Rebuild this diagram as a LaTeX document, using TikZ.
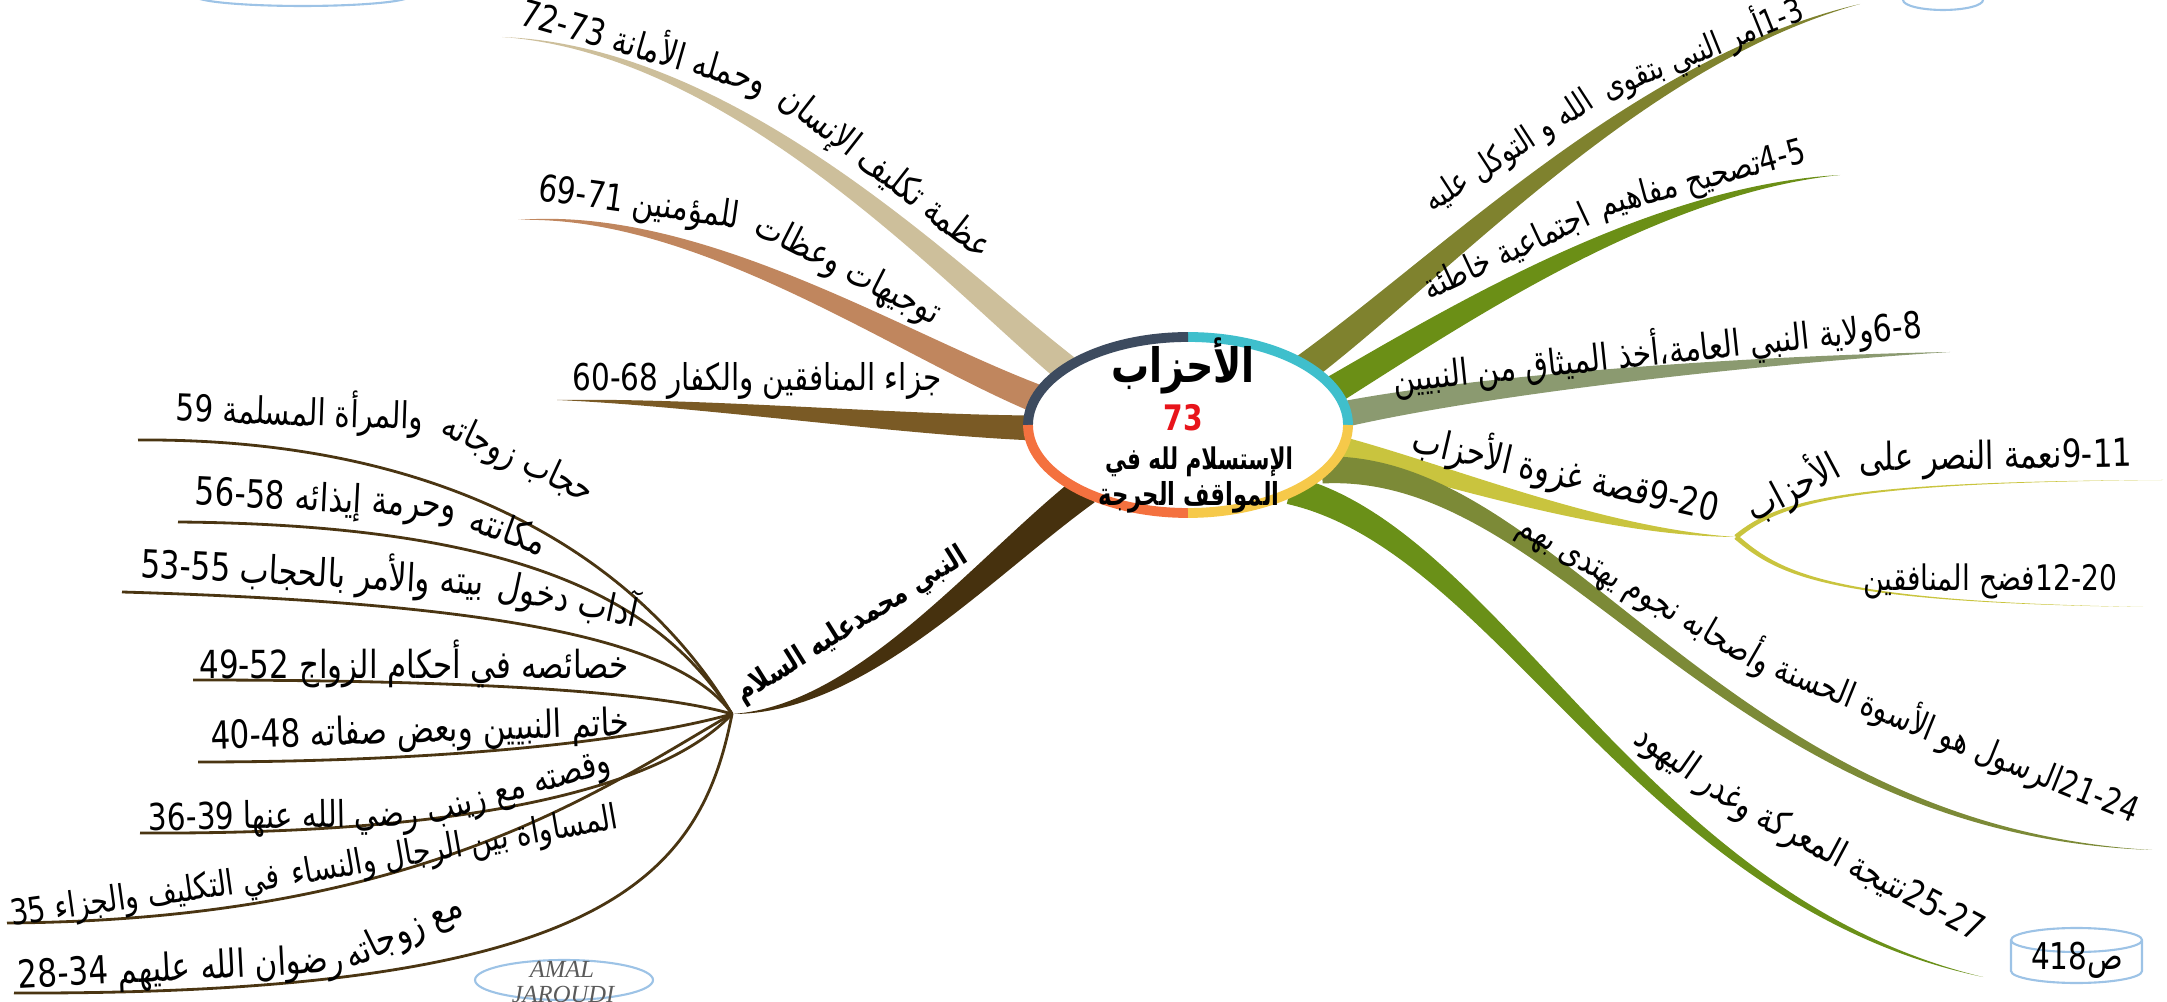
\documentclass[tikz,border=0pt]{standalone}
\usepackage{fontspec}
\usepackage{xcolor}
\usepackage{tikz}
\usetikzlibrary{calc}
\TeXXeTstate=1
\newfontfamily\arfont[Script=Arabic,FakeStretch=0.8]{DejaVu Sans}
\newfontfamily\arcore[Script=Arabic,FakeStretch=0.72]{DejaVu Sans}
\newfontfamily\signfont{Liberation Serif}
\definecolor{ringslate}{HTML}{3D4B5F}
\definecolor{ringteal}{HTML}{3FBFCC}
\definecolor{ringgold}{HTML}{F6C94A}
\definecolor{ringorange}{HTML}{F4713F}
\definecolor{tanb}{HTML}{CDBF9B}
\definecolor{copperb}{HTML}{C0865E}
\definecolor{brownb}{HTML}{7A5A25}
\definecolor{darkb}{HTML}{46310E}
\definecolor{stemb}{HTML}{4A3512}
\definecolor{oliveb}{HTML}{7F822E}
\definecolor{greenb}{HTML}{6B8F16}
\definecolor{sageb}{HTML}{8B9A70}
\definecolor{limeb}{HTML}{C9C43E}
\definecolor{mossb}{HTML}{7C8A37}
\definecolor{grassb}{HTML}{6A9018}
\definecolor{numred}{HTML}{E8141B}
\definecolor{boxblue}{HTML}{9DC3E6}
\definecolor{signgray}{HTML}{5A5A5A}
\newcommand{\artx}[1]{\beginR #1\endR}
\newcommand{\dig}[1]{\beginL #1\endL}
% tapered band: colour, start, control 1, control 2, tip, half width at start
\newcommand{\taper}[6]{%
  \fill[#1] ($#2+#6$) .. controls ($#3+0.8*#6$) and ($#4+0.35*#6$) .. #5
    .. controls ($#4-0.35*#6$) and ($#3-0.8*#6$) .. ($#2-#6$) -- cycle;}

\begin{document}
\begin{tikzpicture}[x=0.1mm, y=-0.1mm,
    lbl/.style={font=\arfont\fontsize{#1}{#1}\selectfont, inner sep=1pt},
    lbl/.default=11,
    coretxt/.style={font=\arfont\bfseries\fontsize{#1}{#1}\selectfont, inner sep=0pt},
    coreline/.style={font=\arcore\bfseries\fontsize{#1}{#1}\selectfont, inner sep=0pt},
    twig/.style={draw=stemb, line width=0.8pt},
    rim/.style={line width=2.8pt},
    boxline/.style={draw=boxblue, line width=0.6pt}
]
\useasboundingbox (0,0) rectangle (2167,1002);
\clip (0,0) rectangle (2167,1002);

\coordinate (core) at (1188,425);
\coordinate (hub) at (732,714);
\coordinate (fork) at (1736,537);

% left bands
\coordinate (l1s) at (1070,372); \coordinate (l1e) at (502,37);
\coordinate (l2s) at (1040,400); \coordinate (l2e) at (518,220);
\coordinate (l3s) at (1035,428); \coordinate (l3e) at (557,400);
\coordinate (l4s) at (1085,490);
\taper{tanb}{(l1s)}{(960,285)}{(740,50)}{(l1e)}{(8.8,-11.2)}
\taper{copperb}{(l2s)}{(900,345)}{(700,210)}{(l2e)}{(5.2,-13.3)}
\taper{brownb}{(l3s)}{(900,425)}{(700,402)}{(l3e)}{(0.3,-12.5)}
\taper{darkb}{(l4s)}{(980,570)}{(860,710)}{(hub)}{(9.5,12.4)}

\foreach \e/\p/\q/\c in {ea/{640,560}/{450,438}/{138,440},
    eb/{660,600}/{520,525}/{178,522}, ec/{680,640}/{500,603}/{122,592},
    ed/{650,690}/{450,680}/{193,680}, ee/{640,740}/{450,762}/{198,762},
    ef/{670,780}/{500,835}/{140,833}, eg/{600,790}/{420,920}/{7,923},
    eh/{700,880}/{600,995}/{14,993}}{
  \coordinate (\e) at (\c);
  \draw[twig] (hub) .. controls (\p) and (\q) .. (\e);
}

% right bands
\coordinate (r1s) at (1305,368); \coordinate (r1e) at (1860,4);
\coordinate (r2s) at (1330,392); \coordinate (r2e) at (1840,175);
\coordinate (r3s) at (1340,415); \coordinate (r3e) at (1950,352);
\coordinate (r4s) at (1340,448);
\coordinate (r4a) at (2163,480); \coordinate (r4b) at (2143,607);
\coordinate (r5s) at (1322,470); \coordinate (r5e) at (2152,850);
\coordinate (r6s) at (1290,490); \coordinate (r6e) at (1983,977);
\taper{oliveb}{(r1s)}{(1450,260)}{(1640,60)}{(r1e)}{(8.6,11.4)}
\taper{greenb}{(r2s)}{(1450,320)}{(1650,190)}{(r2e)}{(7.4,12.2)}
\taper{sageb}{(r3s)}{(1480,385)}{(1750,360)}{(r3e)}{(2.7,12.7)}
\taper{limeb}{(r4s)}{(1450,475)}{(1600,532)}{(fork)}{(-2.9,11.3)}
\taper{limeb}{(fork)}{(1780,500)}{(1850,482)}{(r4a)}{(1.6,1.9)}
\taper{limeb}{(fork)}{(1780,575)}{(1830,602)}{(r4b)}{(-1.6,1.9)}
\taper{mossb}{(r5s)}{(1560,460)}{(1720,830)}{(r5e)}{(0.6,13.5)}
\taper{grassb}{(r6s)}{(1500,540)}{(1640,900)}{(r6e)}{(-3.2,13.9)}

% central topic
\fill[white] (core) ellipse[x radius=16mm, y radius=8.8mm];
\foreach \c/\a in {ringteal/0, ringslate/90, ringorange/180, ringgold/270}
  \draw[rim, \c] (core) ++(\a:16mm and 8.8mm)
    arc[start angle=\a, delta angle=90, x radius=16mm, y radius=8.8mm];
\node[coretxt=13.5] (ttl) at (1183,366) {\artx{الأحزاب}};
\node[coretxt=10, text=numred] (num) at (1183,418) {73};
\node[coreline=8.5] (sub1) at (1199,462) {\artx{الإستسلام لله في}};
\node[coreline=9] (sub2) at (1189,497) {\artx{المواقف الحرجة}};

% left labels
\node[lbl=10.5, anchor=south west, rotate=-38] (t1a) at (766,110) {\artx{عظمة تكليف الإنسان}};
\node[lbl=10.5, anchor=south east, rotate=-16] (t1b) at (763,108) {\artx{وحمله الأمانة \dig{72-73}}};
\node[lbl=10.5, anchor=south west, rotate=-27] (t2a) at (743,243) {\artx{توجيهات وعظات}};
\node[lbl=10.5, anchor=south east, rotate=-8] (t2b) at (740,242) {\artx{للمؤمنين \dig{69-71}}};
\node[lbl=10.5, anchor=south] (t3) at (757,404) {\artx{جزاء المنافقين والكفار \dig{60-68}}};
\node[inner sep=1pt, font=\arfont\bfseries\fontsize{8.5}{10}\selectfont, anchor=south, rotate=32]
  (t4) at (862,642) {\artx{النبي محمدعليه السلام}};

\node[lbl=10.5, anchor=south west, rotate=-25] (sa1) at (430,444) {\artx{حجاب زوجاته}};
\node[lbl=10.5, anchor=south east, rotate=-2] (sa2) at (427,443) {\artx{والمرأة المسلمة \dig{59}}};
\node[lbl, anchor=south west, rotate=-20] (sb1) at (462,533) {\artx{مكانته}};
\node[lbl, anchor=south east, rotate=-3] (sb2) at (459,532) {\artx{وحرمة إيذائه \dig{56-58}}};
\node[lbl, anchor=south west, rotate=-12] (sc1) at (490,610) {\artx{آداب دخول}};
\node[lbl, anchor=south east, rotate=-3] (sc2) at (487,609) {\artx{بيته والأمر بالحجاب \dig{53-55}}};
\node[lbl, anchor=south] (sd) at (414,692) {\artx{خصائصه في أحكام الزواج \dig{49-52}}};
\node[lbl, anchor=south, rotate=2] (se) at (421,756) {\artx{خاتم النبيين وبعض صفاته \dig{40-48}}};
\node[lbl=10.5, anchor=south west, rotate=16] (sf1) at (430,838) {\artx{وقصته مع زينب}};
\node[lbl=10.5, anchor=south east, rotate=1] (sf2) at (423,839) {\artx{رضي الله عنها \dig{36-39}}};
\node[lbl=10, anchor=south west, rotate=10] (sg1) at (292,899) {\artx{المساواة بين الرجال والنساء}};
\node[lbl=10, anchor=south east, rotate=8] (sg2) at (287,900) {\artx{في التكليف والجزاء \dig{35}}};
\node[lbl, anchor=south west, rotate=26] (sh1) at (354,984) {\artx{مع زوجاته}};
\node[lbl, anchor=south east, rotate=3] (sh2) at (349,985) {\artx{رضوان الله عليهم \dig{28-34}}};

% right labels
\node[lbl=9.5, anchor=south west, rotate=22] (r1a) at (1608,113) {\artx{\dig{1-3}أمر النبي بتقوى}};
\node[lbl=9.5, anchor=south east, rotate=33] (r1b) at (1606,115) {\artx{الله و التوكل عليه}};
\node[lbl=10, anchor=south west, rotate=15] (r2a) at (1602,230) {\artx{\dig{4-5}تصحيح مفاهيم}};
\node[lbl=10, anchor=south east, rotate=25] (r2b) at (1600,231) {\artx{اجتماعية خاطئة}};
\node[lbl=10.5, anchor=south, rotate=6] (r3) at (1660,378) {\artx{\dig{6-8}ولاية النبي العامة،أخذ الميثاق من النبيين}};
\node[lbl, anchor=south, rotate=-13] (r4) at (1560,500) {\artx{\dig{9-20}قصة غزوة الأحزاب}};
\node[lbl, anchor=south west, rotate=1] (r4x) at (1855,485) {\artx{\dig{9-11}نعمة النصر على}};
\node[lbl, anchor=south east, rotate=28] (r4y) at (1853,486) {\artx{الأحزاب}};
\node[lbl=10, anchor=south] (r4z) at (1990,603) {\artx{\dig{12-20}فضح المنافقين}};
\node[lbl=10, anchor=south west, rotate=-22] (r5a) at (1764,688) {\artx{\dig{21-24}الرسول هو الأسوة الحسنة}};
\node[lbl=10, anchor=south east, rotate=-30] (r5b) at (1760,688) {\artx{وأصحابه نجوم يهتدى بهم}};
\node[lbl=10.5, anchor=south west, rotate=-28] (r6a) at (1745,834) {\artx{\dig{25-27}نتيجة المعركة}};
\node[lbl=10.5, anchor=south east, rotate=-35] (r6b) at (1741,834) {\artx{وغدر اليهود}};

% page boxes and signature
\draw[boxline, fill=white] (2011,940) -- (2011,971)
  arc[start angle=180, end angle=360, x radius=6.55mm, y radius=1.2mm] -- (2142,940)
  arc[start angle=0, end angle=180, x radius=6.55mm, y radius=1.2mm]
  arc[start angle=180, end angle=360, x radius=6.55mm, y radius=1.2mm];
\node[lbl=10.5] (pg) at (2077,960) {\artx{ص\dig{418}}};
\draw[boxline] (195,-30) -- (195,-4)
  arc[start angle=180, end angle=360, x radius=10.75mm, y radius=1mm] -- (410,-30);
\draw[boxline] (1903,-30) -- (1903,0)
  arc[start angle=180, end angle=360, x radius=4mm, y radius=1mm] -- (1983,-30);
\draw[boxline] (564,980) ellipse[x radius=8.9mm, y radius=2mm];
\node[font=\signfont\itshape\fontsize{7}{8}\selectfont, text=signgray] (sig1) at (562,969) {AMAL};
\node[font=\signfont\itshape\fontsize{7}{8}\selectfont, text=signgray] (sig2) at (563,994) {JAROUDI};
\end{tikzpicture}
\end{document}
